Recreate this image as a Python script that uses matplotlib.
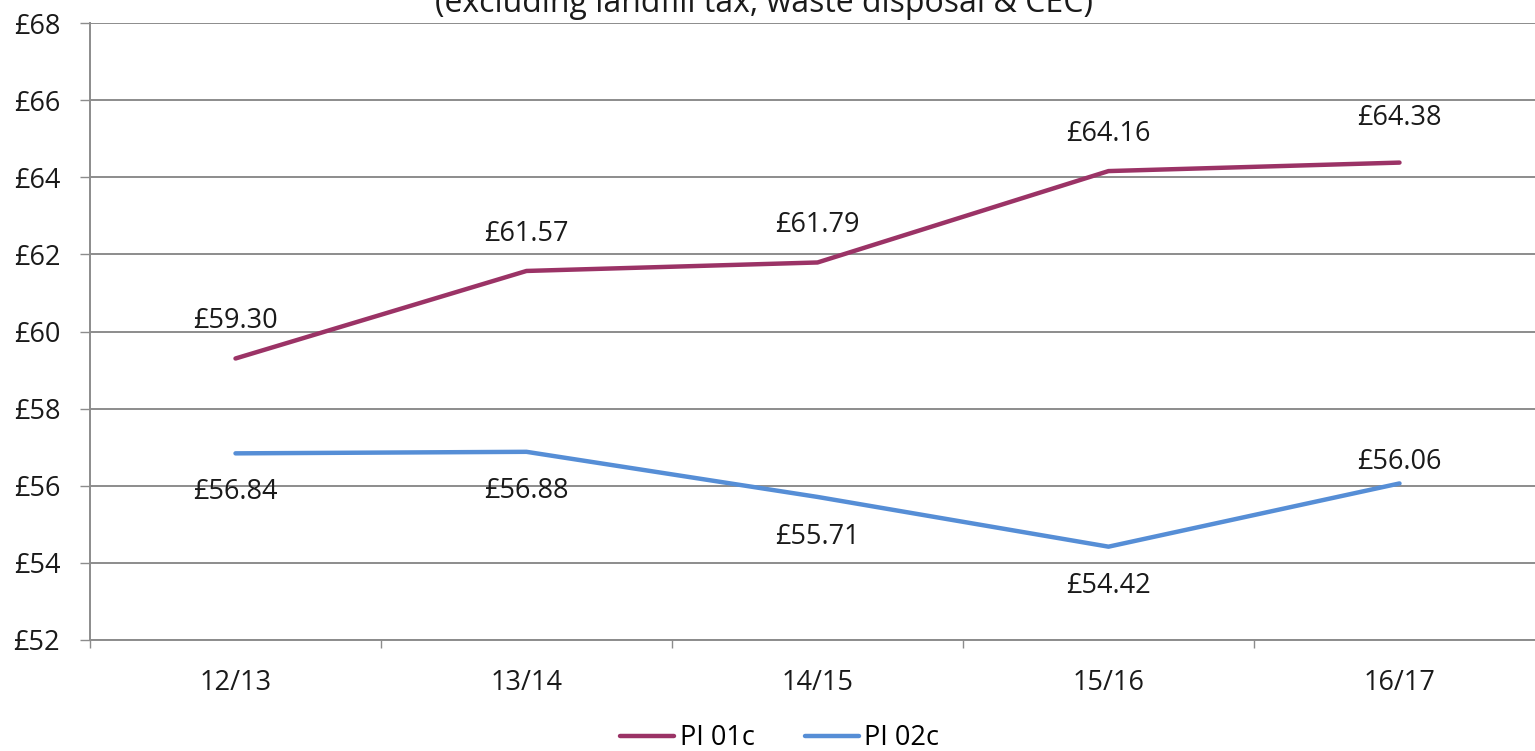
import matplotlib
import matplotlib.pyplot as plt
from matplotlib.ticker import FixedLocator

matplotlib.use('AGG')

# Datos
years = ["12/13", "13/14", "14/15", "15/16", "16/17"]
pi01c = [59.30, 61.57, 61.79, 64.16, 64.38]
pi02c = [56.84, 56.88, 55.71, 54.42, 56.06]
y_ticks = [52, 54, 56, 58, 60, 62, 64, 66, 68]

# Estilo
PURPLE = "#9B3366"
BLUE = "#568ED6"
GRID = "#8C8C8C"
TEXT = "#1a1a1a"
FS = 19.5
plt.rcParams['font.family'] = ['Open Sans', 'DejaVu Sans']

fig = plt.figure(figsize=(15.35, 7.51), dpi=100)
ax = fig.add_axes([90 / 1535, 1 - 640 / 751, 1455 / 1535, 617 / 751])

x = list(range(len(years)))
ax.plot(x, pi01c, color=PURPLE, lw=3.2, label="PI 01c", solid_capstyle='round')
ax.plot(x, pi02c, color=BLUE, lw=3.2, label="PI 02c", solid_capstyle='round')

# Etiquetas de datos (desplazamiento en pixeles)
offs01 = [37, 37, 37, 37, 45]
for xi, v, o in zip(x, pi01c, offs01):
    ax.annotate(f"£{v:.2f}", (xi, v), xytext=(0, o), textcoords='offset pixels',
                ha='center', va='center', fontsize=FS, color=TEXT)
offs02 = [-39, -39, -40, -39, 21]
for xi, v, o in zip(x, pi02c, offs02):
    ax.annotate(f"£{v:.2f}", (xi, v), xytext=(0, o), textcoords='offset pixels',
                ha='center', va='center', fontsize=FS, color=TEXT)

ax.set_xlim(-0.5, len(years) - 0.5)
ax.set_ylim(52, 68)
ax.set_yticks(y_ticks)
ax.set_yticklabels([f"£{t}" for t in y_ticks])
ax.set_xticks(x)
ax.set_xticklabels(years)
ax.xaxis.set_minor_locator(FixedLocator([i - 0.5 for i in range(len(years) + 1)]))

ax.yaxis.grid(True, color=GRID, lw=1.4)
ax.set_axisbelow(True)
for s in ['top', 'right']:
    ax.spines[s].set_visible(False)
for s in ['left', 'bottom']:
    ax.spines[s].set_color(GRID)
    ax.spines[s].set_linewidth(1.4)

ax.tick_params(axis='y', direction='out', length=7.5, width=1.0, color=GRID,
               pad=14, labelsize=FS, labelcolor=TEXT)
ax.tick_params(axis='x', which='major', length=0, pad=21, labelsize=FS, labelcolor=TEXT)
ax.tick_params(axis='x', which='minor', direction='out', length=6, width=1.0, color=GRID)

fig.text(0.498, 0.996, "(excluding landfill tax, waste disposal & CEC)",
         ha='center', va='center', fontsize=23, color=TEXT)

fig.legend(loc='center', bbox_to_anchor=(0.508, 0.017), ncol=2, frameon=False,
           fontsize=FS, handlelength=2.0, columnspacing=1.85, handletextpad=0.2)

fig.savefig("out.png", dpi=100)
